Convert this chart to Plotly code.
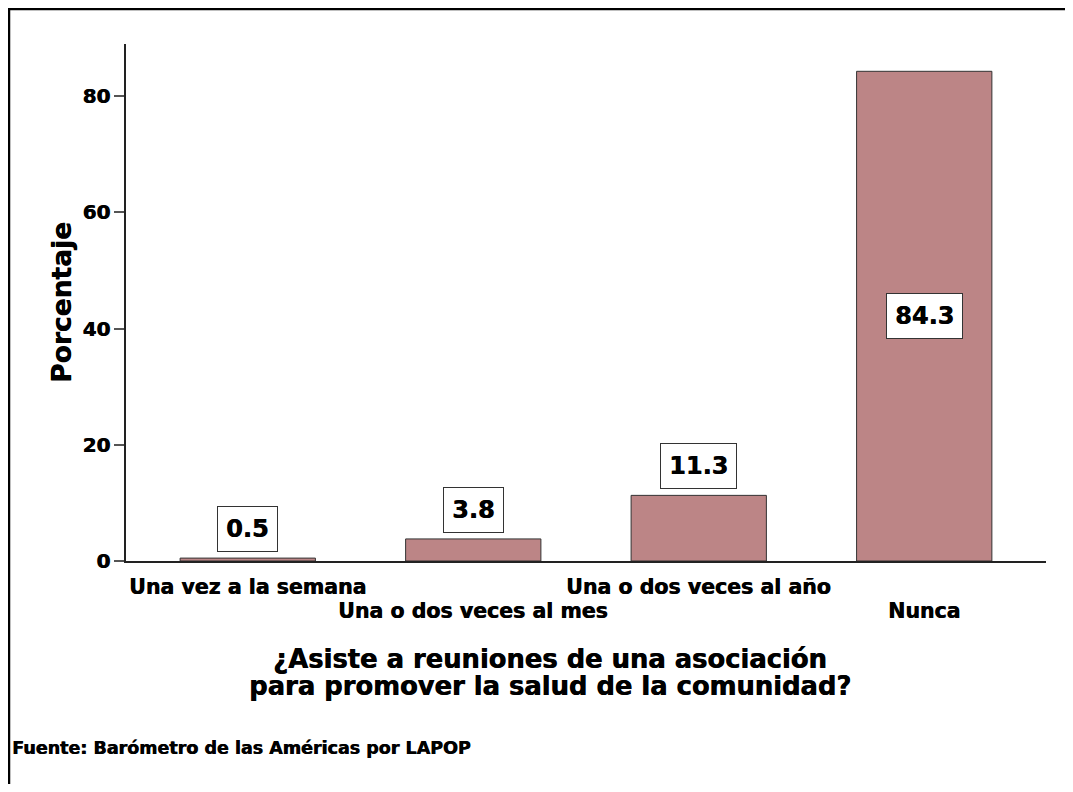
import plotly.graph_objects as go

categories = ["Una vez a la semana", "Una o dos veces al mes", "Una o dos veces al año", "Nunca"]
values = [0.5, 3.8, 11.3, 84.3]
value_labels = ["0.5", "3.8", "11.3", "84.3"]
y_ticks = [0, 20, 40, 60, 80]

title_lines = ["¿Asiste a reuniones de una asociación", "para promover la salud de la comunidad?"]
y_title = "Porcentaje"
source = "Fuente: Barómetro de las Américas por LAPOP"

FONT = "DejaVu Sans"
WEIGHT = "bold"
SHADOW = "0.6px 0px 0px black"
OFF = 8  # page body margin
W, H = 1073 - 2 * OFF, 792 - 2 * OFF
# plot area in page pixels: x 126..1046, y 44..561
ML, MT = 126 - OFF, 44 - OFF
MR, MB = W - (1046 - OFF), H - (561 - OFF)
PW, PH = W - ML - MR, H - MT - MB


def px_x(px):
    return (px - OFF - ML) / PW


def px_y(py):
    return (H - MB - (py - OFF)) / PH


def f(size):
    return dict(family=FONT, size=size, color="black", weight=WEIGHT, shadow=SHADOW)


fig = go.Figure()
fig.add_trace(go.Bar(
    x=list(range(len(categories))),
    y=values,
    width=0.6,
    marker=dict(color="#bc8586", line=dict(color="#333333", width=1)),
    hoverinfo="skip",
))

annotations = []
for i, c in enumerate(categories):
    annotations.append(dict(
        x=i, y=px_y(587 if i % 2 == 0 else 611), xref="x", yref="paper",
        text=c, showarrow=False, xanchor="center", yanchor="middle",
        font=f(20.5),
    ))

for i, (v, t) in enumerate(zip(values, value_labels)):
    inside = v > 50
    annotations.append(dict(
        x=i, y=v / 2 if inside else v, xref="x", yref="y",
        text=t, showarrow=False, xanchor="center",
        yanchor="middle" if inside else "bottom",
        yshift=0 if inside else 6,
        font=f(24),
        bgcolor="white", bordercolor="#333333", borderwidth=1, borderpad=8,
    ))

annotations.append(dict(
    x=px_x(61), y=px_y(303), xref="paper", yref="paper",
    text=y_title, textangle=-90, showarrow=False,
    xanchor="center", yanchor="middle", font=f(26.5),
))

for yy, line in zip([659, 686], title_lines):
    annotations.append(dict(
        x=px_x(550), y=px_y(yy), xref="paper", yref="paper",
        text=line, showarrow=False, xanchor="center", yanchor="middle",
        font=f(25.8),
    ))

annotations.append(dict(
    x=px_x(10), y=px_y(748), xref="paper", yref="paper",
    text=source, showarrow=False, xanchor="left", yanchor="middle",
    font=f(17.5),
))

fig.update_layout(
    width=W, height=H,
    margin=dict(l=ML, r=MR, t=MT, b=MB, autoexpand=False),
    paper_bgcolor="white", plot_bgcolor="white",
    showlegend=False,
    annotations=annotations,
    shapes=[dict(
        type="rect", xref="paper", yref="paper",
        x0=px_x(OFF + 1), y0=px_y(H + 200), x1=px_x(W + 200), y1=px_y(OFF + 1),
        line=dict(color="black", width=2.5), fillcolor="rgba(0,0,0,0)", layer="above",
    )],
    xaxis=dict(
        range=[-0.54, 3.54], showgrid=False, zeroline=False,
        showline=True, linecolor="#222222", linewidth=1.5,
        showticklabels=False, ticks="", fixedrange=True,
    ),
    yaxis=dict(
        range=[0, 89], showgrid=False, zeroline=False,
        showline=True, linecolor="#222222", linewidth=1.5,
        tickvals=y_ticks,
        ticks="outside", ticklen=10, tickcolor="#555555", tickwidth=1.5,
        tickfont=f(20), fixedrange=True,
    ),
)

fig.write_html("out.html")
